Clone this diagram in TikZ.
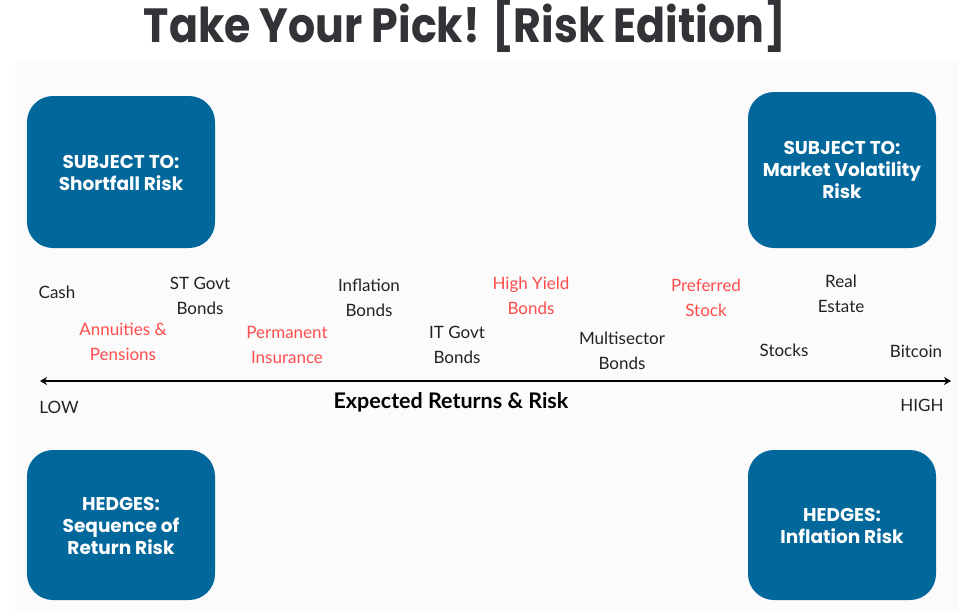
\documentclass[tikz,border=0pt]{standalone}
\usepackage{fontspec}
\usetikzlibrary{arrows.meta}
\setmainfont{Lato}
\newfontfamily\titlefont{Poppins}[UprightFont=* Bold]
\newfontfamily\boxfont{Poppins}[UprightFont=* Bold]
\definecolor{boxblue}{HTML}{02679A}
\definecolor{redtxt}{HTML}{FF4D4D}
\definecolor{darktxt}{HTML}{222222}
\definecolor{titlecol}{HTML}{333236}
\tikzset{
  riskbox/.style={draw=none,fill=boxblue,rounded corners=26pt,inner sep=0pt},
  boxtext/.style={text=white,font=\boxfont\fontsize{18.5}{22}\selectfont,align=center},
  item/.style={text=darktxt,font=\fontsize{17}{25.5}\selectfont,align=center,inner sep=0pt},
  reditem/.style={item,text=redtxt},
}
\begin{document}
\begin{tikzpicture}[x=1pt,y=-1pt]
\useasboundingbox (0,0) rectangle (962,616);
\fill[white] (0,0) rectangle (962,616);
\fill[black!1.5] (15,62) rectangle (958,612);
\node[text=titlecol,font=\titlefont\fontsize{48}{54}\selectfont] (title) at (465,26) {\scalebox{0.89}[1]{Take Your Pick! [Risk Edition]}};
% boxes
\fill[riskbox] (27,96) rectangle (215,248);
\node[boxtext] (tl) at (121,173) {SUBJECT TO:\\Shortfall Risk};
\fill[riskbox] (748,92) rectangle (936,248);
\node[boxtext] (tr) at (842,170) {SUBJECT TO:\\Market Volatility\\Risk};
\fill[riskbox] (27,450) rectangle (215,600);
\node[boxtext] (bl) at (121,526) {HEDGES:\\Sequence of\\Return Risk};
\fill[riskbox] (748,450) rectangle (936,600);
\node[boxtext] (br) at (842,526) {HEDGES:\\Inflation Risk};
% axis
\coordinate (lo) at (40,381);
\coordinate (hi) at (951,381);
\draw[line width=1.8pt,{Stealth[length=7pt,width=8pt]}-{Stealth[length=7pt,width=8pt]}] (lo) -- (hi);
\node[item] (low) at (59,407) {LOW};
\node[item] (high) at (922,405) {HIGH};
\node[item,font=\bfseries\fontsize{21.5}{24}\selectfont,text=black] (axis) at (451,402) {Expected Returns \& Risk};
% items
\node[item] (cash) at (57,292) {Cash};
\node[item] (stgovt) at (200,296) {ST Govt\\Bonds};
\node[reditem] (annu) at (123,342) {Annuities \&\\Pensions};
\node[reditem] (perm) at (287,345) {Permanent\\Insurance};
\node[item] (infl) at (369,298) {Inflation\\Bonds};
\node[item] (itgovt) at (457,345) {IT Govt\\Bonds};
\node[reditem] (hy) at (531,296) {High Yield\\Bonds};
\node[item] (multi) at (622,351) {Multisector\\Bonds};
\node[reditem] (pref) at (706,298) {Preferred\\Stock};
\node[item] (stocks) at (784,350) {Stocks};
\node[item] (real) at (841,294) {Real\\Estate};
\node[item] (btc) at (916,351) {Bitcoin};
\end{tikzpicture}
\end{document}
